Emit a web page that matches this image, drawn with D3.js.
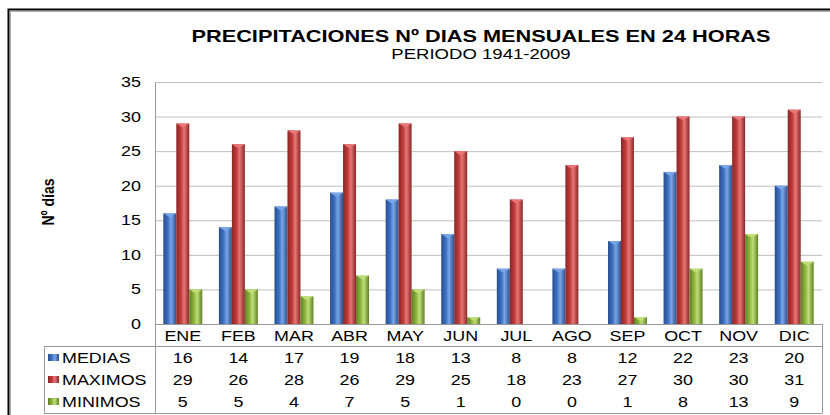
<!DOCTYPE html>
<html>
<head>
<meta charset="utf-8">
<script src="https://cdn.jsdelivr.net/npm/d3@7"></script>
<style>
  body { margin: 0; background: #fff; }
  text { font-family: "Liberation Sans", Arial, sans-serif; fill: #000; }
  .grid line { stroke: #bfbfbf; }
  .grid path { display: none; }
</style>
</head>
<body>
<svg id="chart" width="830" height="415"></svg>
<script>
  var months = ['ENE', 'FEB', 'MAR', 'ABR', 'MAY', 'JUN', 'JUL', 'AGO', 'SEP', 'OCT', 'NOV', 'DIC'];
  var medias = [16, 14, 17, 19, 18, 13, 8, 8, 12, 22, 23, 20];
  var maximos = [29, 26, 28, 26, 29, 25, 18, 23, 27, 30, 30, 31];
  var minimos = [5, 5, 4, 7, 5, 1, 0, 0, 1, 8, 13, 9];
  var yTicks = [0, 5, 10, 15, 20, 25, 30, 35];

  var series = [
    { name: 'MEDIAS', values: medias, color: '#3b6fc2', light: '#7aa5e6', dark: '#2a4f8e' },
    { name: 'MAXIMOS', values: maximos, color: '#bf3a3a', light: '#e87676', dark: '#8a2626' },
    { name: 'MINIMOS', values: minimos, color: '#8cb43c', light: '#c0de78', dark: '#5f7f24' }
  ];

  var svg = d3.select('#chart');
  var plot = { left: 155, right: 822, top: 82, bottom: 324 };
  var tableLeft = 44, headerBottom = 346, tableBottom = 413;
  var stretch = 1.28; // the original text is a bit wide

  // text helper, widened horizontally like the source image
  function label(parent, x, y, str, opts) {
    opts = opts || {};
    return parent.append('text')
      .attr('transform', 'translate(' + x + ',' + y + ') scale(' + stretch + ',1)')
      .attr('text-anchor', opts.anchor || 'start')
      .style('font-size', (opts.size || 14) + 'px')
      .style('font-weight', opts.weight || 'normal')
      .text(str);
  }

  /* gradients for the cylinder look */
  var defs = svg.append('defs');
  series.forEach(function(s, i) {
    var g = defs.append('linearGradient').attr('id', 'grad' + i)
      .attr('x1', '0').attr('x2', '1').attr('y1', '0').attr('y2', '0');
    g.append('stop').attr('offset', '0').attr('stop-color', s.dark);
    g.append('stop').attr('offset', '0.35').attr('stop-color', s.color);
    g.append('stop').attr('offset', '0.6').attr('stop-color', s.light);
    g.append('stop').attr('offset', '1').attr('stop-color', s.dark);
  });

  /* outer frame */
  svg.append('path').attr('d', 'M8.5,415 V9.5 H830').attr('fill', 'none')
    .attr('stroke', '#000').attr('stroke-width', 2);
  svg.append('path').attr('d', 'M10.5,415 V11.5 H830').attr('fill', 'none')
    .attr('stroke', '#aaa').attr('stroke-width', 1);

  /* titles */
  label(svg, 481, 42, 'PRECIPITACIONES  Nº DIAS MENSUALES EN 24 HORAS',
    { anchor: 'middle', size: 17, weight: 'bold' });
  label(svg, 481, 59, 'PERIODO 1941-2009', { anchor: 'middle', size: 14.5 });

  var x = d3.scaleBand().domain(months).range([plot.left, plot.right]);
  var xs = d3.scaleBand().domain(series.map(function(s) { return s.name; }))
    .range([0, x.bandwidth()]).paddingInner(0).paddingOuter(0.64);
  var y = d3.scaleLinear().domain([0, 35]).range([plot.bottom, plot.top]);

  /* grid */
  svg.append('g').attr('class', 'grid')
    .attr('transform', 'translate(' + plot.left + ',0)')
    .call(d3.axisRight(y).tickValues(yTicks.slice(1)).tickSize(plot.right - plot.left).tickFormat(''));

  /* y tick labels */
  var yl = svg.append('g');
  yTicks.forEach(function(d) {
    label(yl, 141, y(d) + 5, d, { anchor: 'end', size: 14 });
  });

  svg.append('text').attr('transform', 'translate(54,202) rotate(-90) scale(1,1.2)')
    .attr('text-anchor', 'middle').style('font-weight', 'bold').style('font-size', '14px')
    .text('Nº días');

  /* bars */
  series.forEach(function(s, i) {
    var pts = s.values.map(function(v, j) { return { m: months[j], v: v }; });
    var g = svg.append('g');
    g.selectAll('rect').data(pts).enter().append('rect')
      .attr('x', function(d) { return x(d.m) + xs(s.name); })
      .attr('y', function(d) { return y(d.v); })
      .attr('width', xs.bandwidth())
      .attr('height', function(d) { return y(0) - y(d.v); })
      .attr('fill', 'url(#grad' + i + ')');
    /* light cap on top */
    g.selectAll('path').data(pts.filter(function(d) { return d.v > 0; })).enter().append('path')
      .attr('d', function(d) {
        var x0 = x(d.m) + xs(s.name), w = xs.bandwidth(), yt = y(d.v);
        return 'M' + x0 + ',' + yt + 'H' + (x0 + w) + 'L' + (x0 + w / 2) + ',' + (yt + 4) + 'Z';
      })
      .attr('fill', s.light);
  });

  /* data table lines */
  var lines = svg.append('g').attr('stroke', '#999').attr('fill', 'none');
  lines.append('path').attr('d', 'M' + plot.left + ',' + (plot.bottom + 0.5) + 'H' + (plot.right + 0.5));
  lines.append('path').attr('d', 'M' + tableLeft + ',' + (headerBottom + 0.5) + 'H' + (plot.right + 0.5));
  lines.append('path').attr('d', 'M' + tableLeft + ',' + (tableBottom + 0.5) + 'H' + (plot.right + 0.5));
  lines.append('path').attr('d', 'M' + (tableLeft + 0.5) + ',' + headerBottom + 'V' + tableBottom);
  lines.append('path').attr('d', 'M' + (plot.left + 0.5) + ',' + plot.top + 'V' + tableBottom);
  lines.append('path').attr('d', 'M' + (plot.right + 0.5) + ',' + plot.bottom + 'V' + tableBottom);

  /* month header */
  var hdr = svg.append('g');
  months.forEach(function(m) {
    label(hdr, x(m) + x.bandwidth() / 2, 341, m, { anchor: 'middle', size: 14 });
  });

  /* rows */
  var rowY = [363, 385, 407];
  series.forEach(function(s, i) {
    svg.append('rect').attr('x', 48).attr('y', rowY[i] - 9).attr('width', 11).attr('height', 7)
      .attr('fill', 'url(#grad' + i + ')');
    var row = svg.append('g');
    label(row, 62, rowY[i], s.name, { size: 14 });
    s.values.forEach(function(v, j) {
      label(row, x(months[j]) + x.bandwidth() / 2, rowY[i], v, { anchor: 'middle', size: 14 });
    });
  });
</script>
</body>
</html>
